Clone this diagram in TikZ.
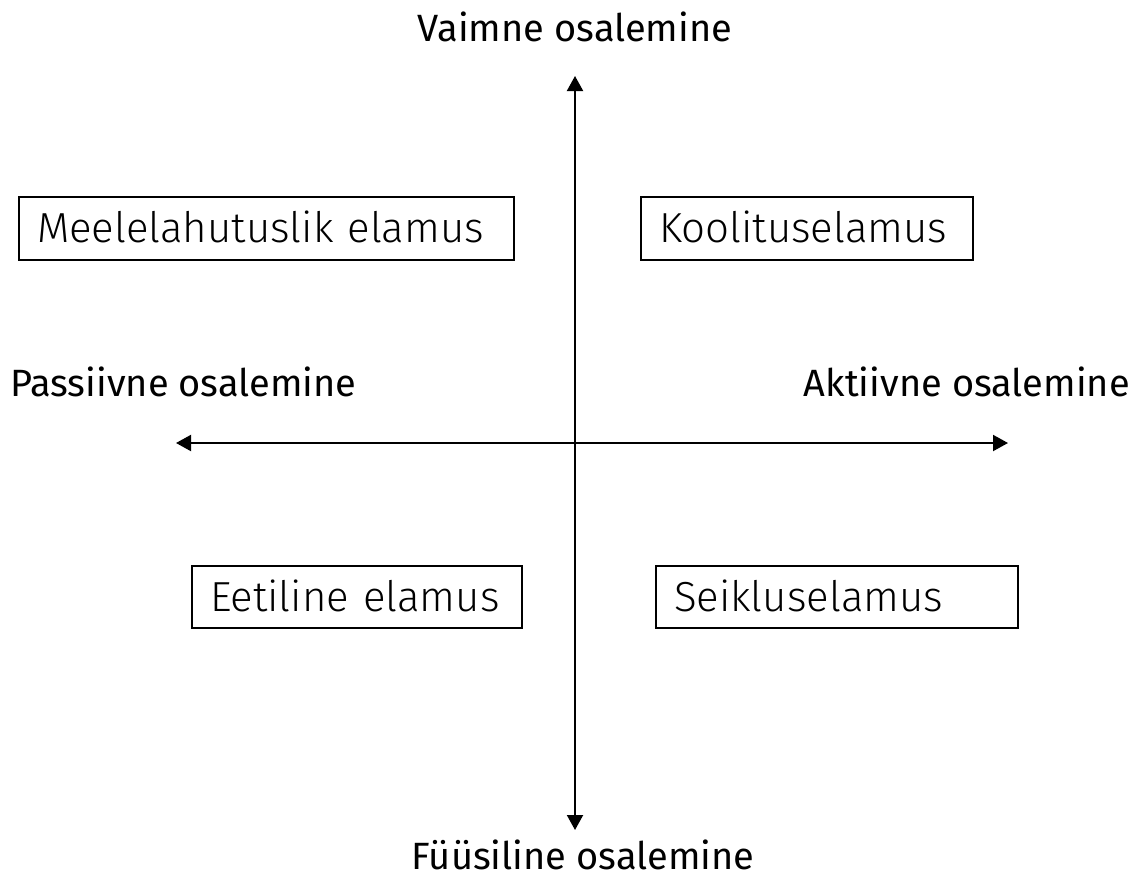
\documentclass[tikz,border=0pt]{standalone}
\usepackage{fontspec}
\setmainfont{Fira Sans}[Ligatures=NoCommon]
\newfontfamily\lightfont{Fira Sans Light}[Ligatures=NoCommon]
\usetikzlibrary{arrows.meta}
\begin{document}
\begin{tikzpicture}[x=1pt,y=-1pt,
  axis/.style={line width=2pt,{Triangle[width=16pt,length=15pt]}-{Triangle[width=16pt,length=15pt]}},
  box/.style={draw,line width=2pt,anchor=north west,inner xsep=18pt,inner ysep=0pt,
    align=left,text width=#1,text height=45pt,text depth=18pt,
    font=\lightfont\fontsize{42}{46}\selectfont},
  lbl/.style={font=\fontsize{38}{44}\selectfont,inner sep=0pt}]
\useasboundingbox (0,0) rectangle (1137,878);
\coordinate (top) at (575,76);
\coordinate (bot) at (575,830);
\coordinate (lft) at (176,443);
\coordinate (rgt) at (1008,443);
\draw[axis] (bot) -- (top);
\draw[axis] (lft) -- (rgt);
\node[box=459pt] (m) at (18,196) {Meelelahutuslik elamus};
\node[box=296pt] (k) at (640,196) {Koolituselamus};
\node[box=294pt,text depth=17pt] (e) at (191,565) {Eetiline elamus};
\node[box=326pt,text depth=17pt] (s) at (655,565) {Seikluselamus};
\node[lbl,anchor=base] (v) at (575,41) {Vaimne osalemine};
\node[lbl,anchor=base west] (p) at (10,396) {Passiivne osalemine};
\node[lbl,anchor=base east] (a) at (1130,396) {Aktiivne osalemine};
\node[lbl,anchor=base] (f) at (583,869) {Füüsiline osalemine};
\end{tikzpicture}
\end{document}
